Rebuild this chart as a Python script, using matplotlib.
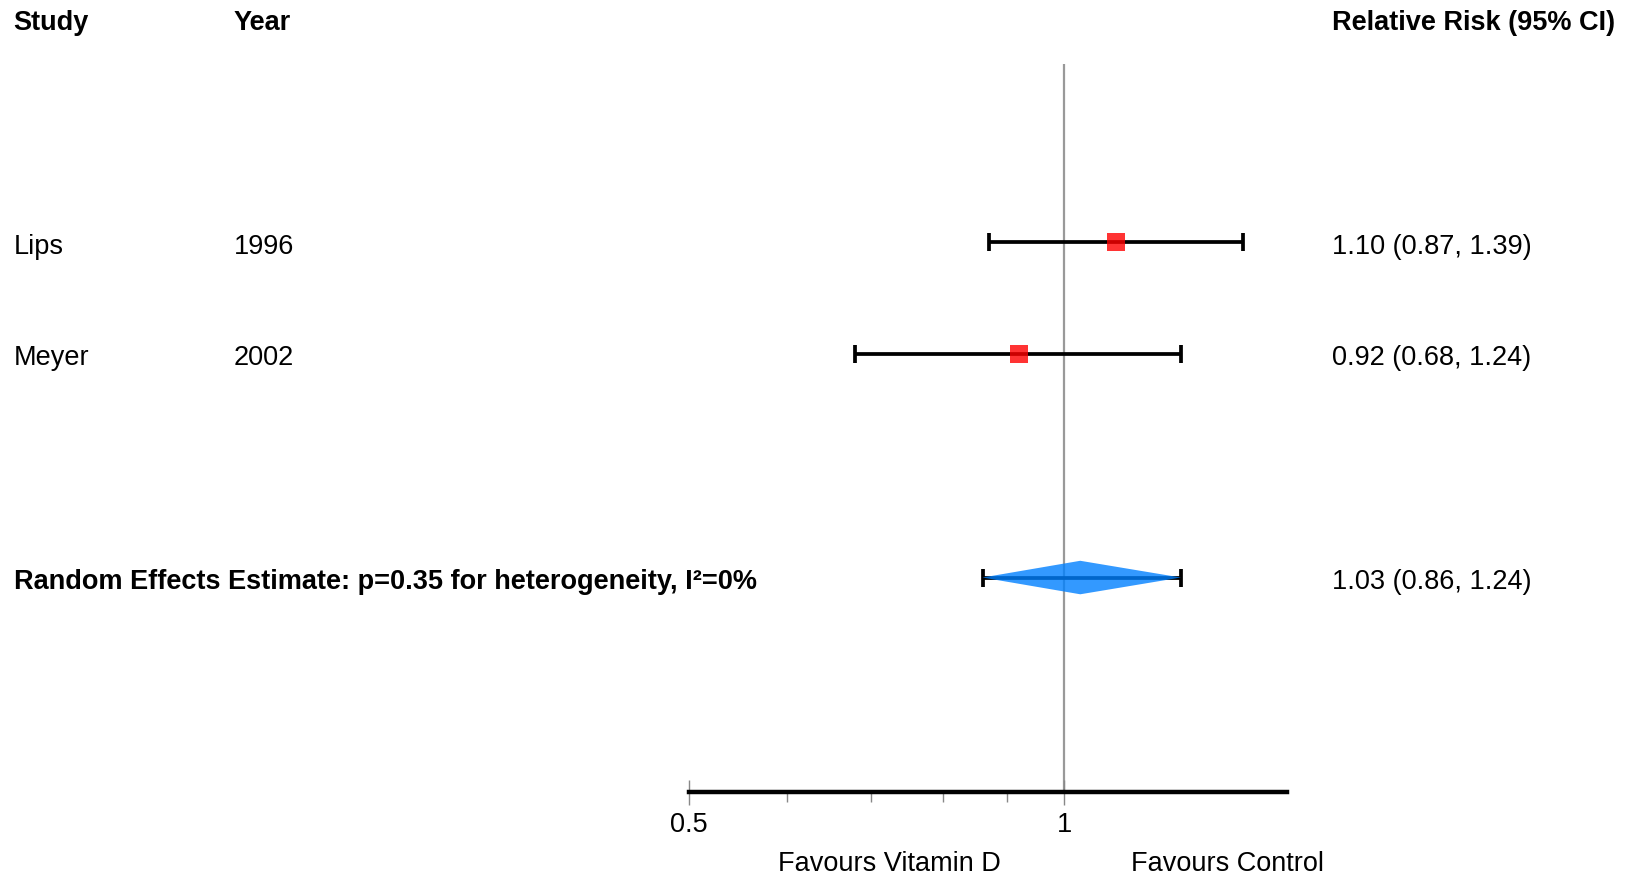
import matplotlib
matplotlib.use("Agg")
import matplotlib.pyplot as plt
import matplotlib.transforms as mtransforms
from matplotlib.patches import Polygon
from matplotlib.ticker import FixedLocator, NullFormatter

plt.rcParams['font.family'] = ['Liberation Sans', 'DejaVu Sans']

# Study-level data
studies = ["Lips", "Meyer"]
years = ["1996", "2002"]
rr = [1.10, 0.92]
ci_low = [0.87, 0.68]
ci_high = [1.39, 1.24]

# Pooled estimate
pooled_rr = 1.03
pooled_low = 0.86
pooled_high = 1.24
pooled_label = "Random Effects Estimate: p=0.35 for heterogeneity, I\u00b2=0%"

# Axis settings
x_min, x_max = 0.5, 1.507
major_ticks = [0.5, 1]
major_labels = ["0.5", "1"]
minor_ticks = [0.6, 0.7, 0.8, 0.9]
left_note, right_note = "Favours Vitamin D", "Favours Control"

W, H = 1636, 879
fig = plt.figure(figsize=(W / 100, H / 100), dpi=100)
ax_left, ax_right = 688.6 / W, 1286.5 / W
ax_top, ax_bottom = 1 - 64.7 / H, 1 - 793 / H
ax = fig.add_axes([ax_left, ax_bottom, ax_right - ax_left, ax_top - ax_bottom])
ax.set_xscale('log')
ax.set_xlim(x_min, x_max)
ax.set_ylim(4.92, -1.6)

for s in ['top', 'right', 'left']:
    ax.spines[s].set_visible(False)
ax.spines['bottom'].set_linewidth(3.2)
ax.spines['bottom'].set_color('black')
ax.set_yticks([])

ax.xaxis.set_major_locator(FixedLocator(major_ticks))
ax.set_xticklabels(major_labels)
ax.xaxis.set_minor_locator(FixedLocator(minor_ticks))
ax.xaxis.set_minor_formatter(NullFormatter())
ax.tick_params(axis='x', which='major', direction='inout', length=18,
               width=1, color='#888888', labelsize=19.5, pad=5)
ax.tick_params(axis='x', which='minor', direction='out', length=7,
               width=1, color='#888888')

# Line of no effect
ax.axvline(1.0, color='#999999', lw=1.6, zorder=1)

rows = [0, 1]
pooled_row = 3
header_row = -2

lw_ci, cap = 2.7, 6.3
for y, est, lo, hi in zip(rows, rr, ci_low, ci_high):
    ax.errorbar([est], [y], xerr=[[est - lo], [hi - est]], fmt='none',
                ecolor='black', elinewidth=lw_ci, capsize=cap, capthick=lw_ci,
                zorder=2)
    ax.plot([est], [y], marker='s', markersize=12.5, color='red', alpha=0.8,
            markeredgewidth=0, linestyle='none', zorder=3)

ax.errorbar([pooled_rr], [pooled_row],
            xerr=[[pooled_rr - pooled_low], [pooled_high - pooled_rr]],
            fmt='none', ecolor='black', elinewidth=lw_ci, capsize=cap,
            capthick=lw_ci, zorder=2)
half_h = 0.15
diamond = Polygon([[pooled_low, pooled_row], [pooled_rr, pooled_row - half_h],
                   [pooled_high, pooled_row], [pooled_rr, pooled_row + half_h]],
                  closed=True, facecolor=(0, 0.5, 1.0), edgecolor='none',
                  alpha=0.8, zorder=3)
ax.add_patch(diamond)

# Text columns
trans = mtransforms.blended_transform_factory(fig.transFigure, ax.transData)
trans = mtransforms.offset_copy(trans, fig=fig, y=-3.2, units='dots')
x_study, x_year, x_rr = 13.6 / W, 233.7 / W, 1332.4 / W
fs = 19.5

fig.text(x_study, header_row, "Study", transform=trans, fontsize=fs,
         fontweight='bold', va='center')
fig.text(x_year, header_row, "Year", transform=trans, fontsize=fs,
         fontweight='bold', va='center')
fig.text(x_rr, header_row, "Relative Risk (95% CI)", transform=trans,
         fontsize=fs, fontweight='bold', va='center')

for y, name, yr, est, lo, hi in zip(rows, studies, years, rr, ci_low, ci_high):
    fig.text(x_study, y, name, transform=trans, fontsize=fs, va='center')
    fig.text(x_year, y, yr, transform=trans, fontsize=fs, va='center')
    fig.text(x_rr, y, f"{est:.2f} ({lo:.2f}, {hi:.2f})", transform=trans,
             fontsize=fs, va='center')

fig.text(x_study, pooled_row, pooled_label, transform=trans, fontsize=fs,
         fontweight='bold', va='center')
fig.text(x_rr, pooled_row, f"{pooled_rr:.2f} ({pooled_low:.2f}, {pooled_high:.2f})",
         transform=trans, fontsize=fs, va='center')

# Direction notes under the axis
note_y = 1 - 864 / H
fig.text(1000.6 / W, note_y, left_note, fontsize=fs, ha='right', va='center')
fig.text(1131 / W, note_y, right_note, fontsize=fs, ha='left', va='center')

fig.savefig("out.png", dpi=100)
